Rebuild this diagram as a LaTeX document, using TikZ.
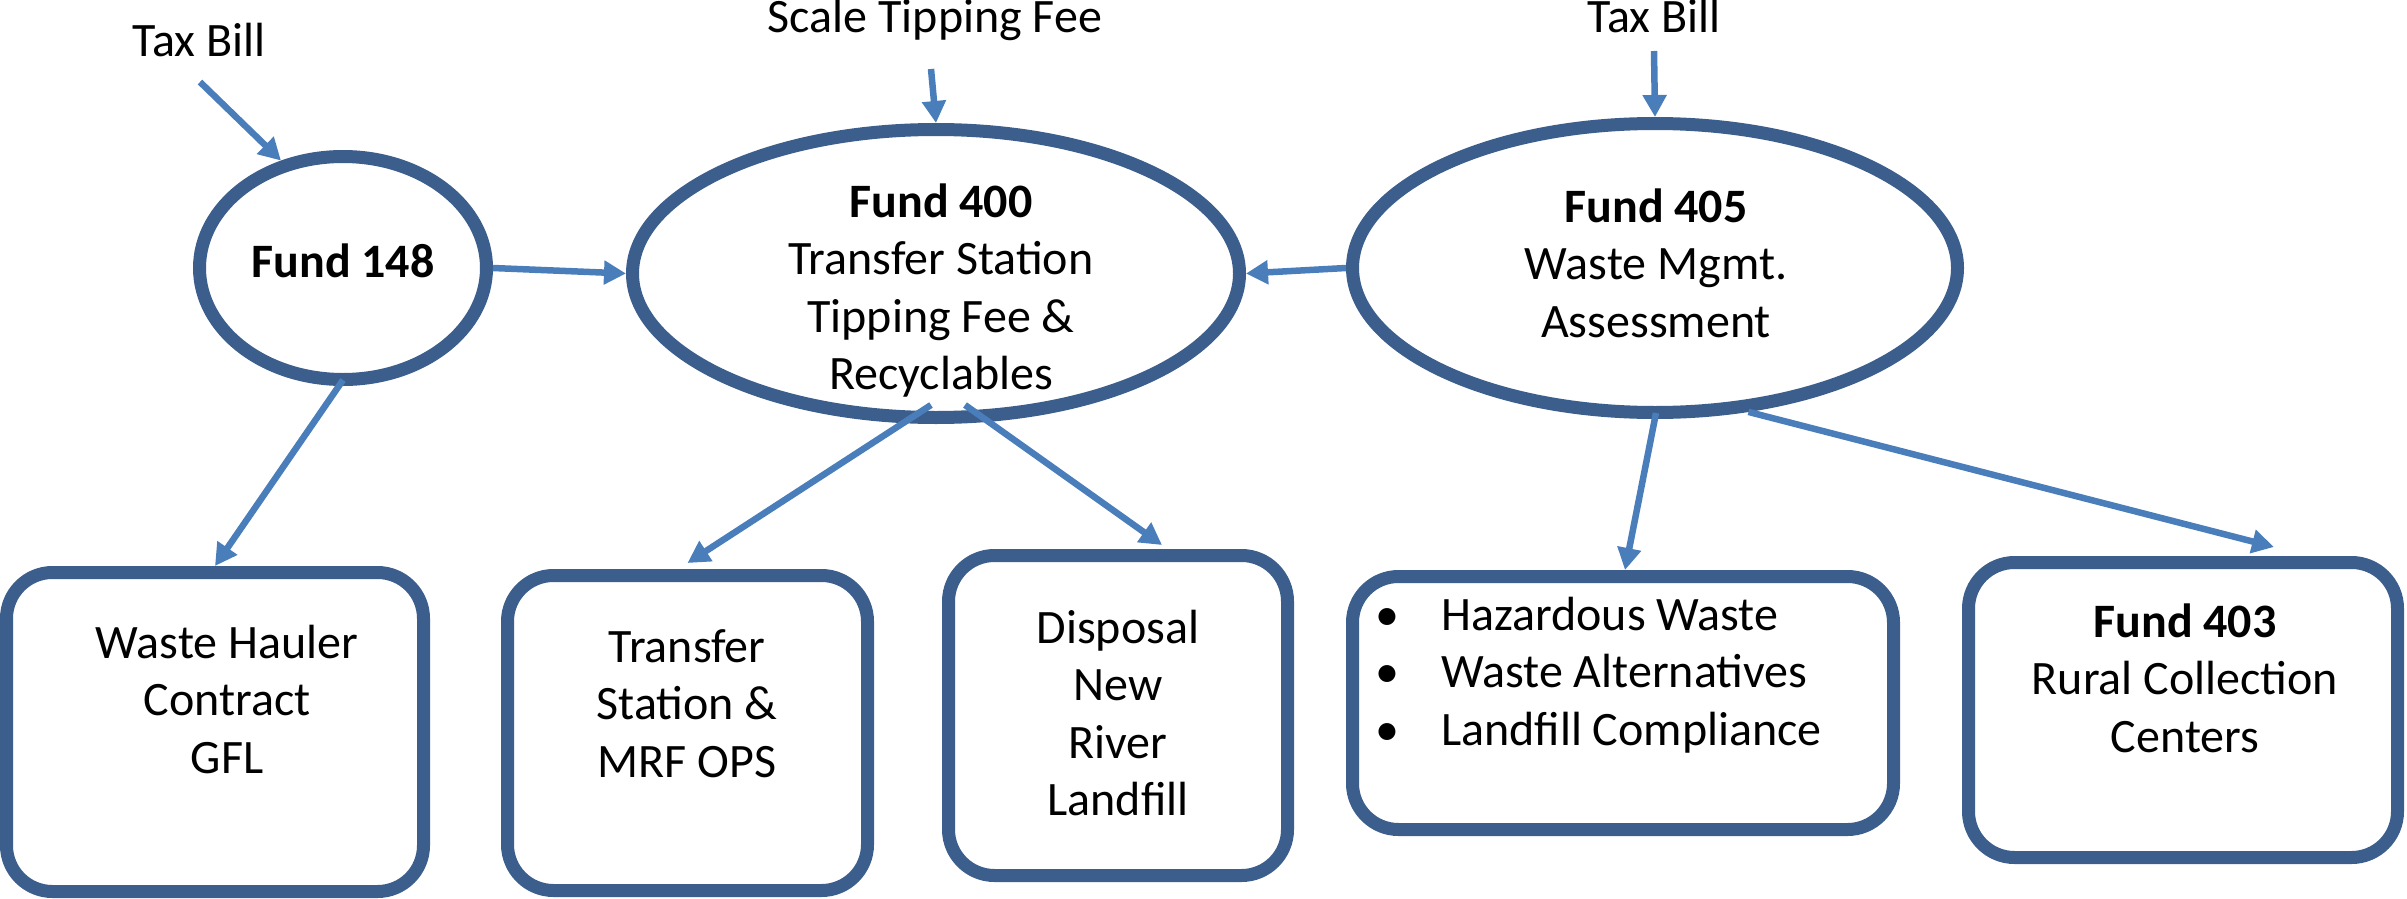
\documentclass[tikz,border=0pt]{standalone}
\usepackage{fontspec}
\setmainfont{Carlito}
\usetikzlibrary{arrows.meta,shapes.geometric}
\definecolor{rim}{HTML}{3B5E8C}
\definecolor{flow}{HTML}{4A7EBB}
\begin{document}
\begin{tikzpicture}[x=1pt,y=-1pt,
  oval/.style={ellipse, draw=rim, line width=13pt, inner sep=0pt, fill=white},
  card/.style={rectangle, rounded corners=46pt, draw=rim, line width=13pt, inner sep=0pt, fill=white},
  lbl/.style={anchor=base, inner sep=0pt, font=\fontsize{48}{57.5}\selectfont},
  flowarrow/.style={draw=flow, line width=6.5pt, -{Triangle[length=22pt,width=23pt]}}]
\useasboundingbox (0,0) rectangle (2407,899);

% shapes
\node[oval, minimum width=287pt, minimum height=223pt] (f148) at (343,268) {};
\node[oval, minimum width=607pt, minimum height=288pt] (f400) at (936,273.5) {};
\node[oval, minimum width=605pt, minimum height=289pt] (f405) at (1655,268) {};
\node[card, minimum width=417pt, minimum height=319pt] (box1) at (215,732) {};
\node[card, minimum width=360pt, minimum height=315pt] (box2) at (687.5,733) {};
\node[card, minimum width=339pt, minimum height=320pt] (box3) at (1118,715.5) {};
\node[card, minimum width=541pt, minimum height=253pt] (box4) at (1623,703) {};
\node[card, minimum width=429pt, minimum height=295pt] (box5) at (2183,710) {};

% texts
\node[lbl] (taxL) at (199,57) {Tax Bill};
\node[lbl] (scale) at (935,33) {Scale Tipping Fee};
\node[lbl] (taxR) at (1654,33) {Tax Bill};
\node[lbl] (t148) at (343,277) {\textbf{Fund 148}};
\node[lbl] (t400) at (941,217) {\begin{tabular}[t]{@{}c@{}}\textbf{Fund 400}\\Transfer Station\\Tipping Fee \&\\Recyclables\end{tabular}};
\node[lbl] (t405) at (1656,222) {\begin{tabular}[t]{@{}c@{}}\textbf{Fund 405}\\Waste Mgmt.\\Assessment\end{tabular}};
\node[lbl] (t1) at (227,658) {\begin{tabular}[t]{@{}c@{}}Waste Hauler\\Contract\\GFL\end{tabular}};
\node[lbl] (t2) at (687,662) {\begin{tabular}[t]{@{}c@{}}Transfer\\Station \&\\MRF OPS\end{tabular}};
\node[lbl] (t3) at (1118,643) {\begin{tabular}[t]{@{}c@{}}Disposal\\New\\River\\Landfill\end{tabular}};
\node[lbl, anchor=base west] (t4) at (1375,630) {\begin{tabular}[t]{@{}c@{\hspace{42pt}}l@{}}\makebox[24pt]{\textbullet} & Hazardous Waste\\\makebox[24pt]{\textbullet} & Waste Alternatives\\\makebox[24pt]{\textbullet} & Landfill Compliance\end{tabular}};
\node[lbl] (t5) at (2185,637) {\begin{tabular}[t]{@{}c@{}}\textbf{Fund 403}\\Rural Collection\\Centers\end{tabular}};

% connectors
\coordinate (sTaxL) at (200,82);
\coordinate (sScale) at (931,69);
\coordinate (sTaxR) at (1654,51);
\draw[flowarrow] (sTaxL) -- (f148.120);
\draw[flowarrow] (sScale) -- (f400.north);
\draw[flowarrow] (sTaxR) -- (f405.north);
\draw[flowarrow] (f148.east) -- (f400.west);
\draw[flowarrow] (f405.west) -- (f400.east);
\draw[flowarrow] ([yshift=6pt]f148.south) -- (box1.north);
\draw[flowarrow] ([xshift=-5pt,yshift=19pt]f400.south) -- ([yshift=6pt]box2.north);
\draw[flowarrow] ([xshift=29pt,yshift=19pt]f400.south) -- ([xshift=44pt,yshift=4pt]box3.north);
\draw[flowarrow] ([xshift=1pt,yshift=6pt]f405.south) -- ([xshift=2pt]box4.north);
\draw[flowarrow] (f405.-57) -- ([xshift=91pt,yshift=9pt]box5.north);
\end{tikzpicture}
\end{document}
